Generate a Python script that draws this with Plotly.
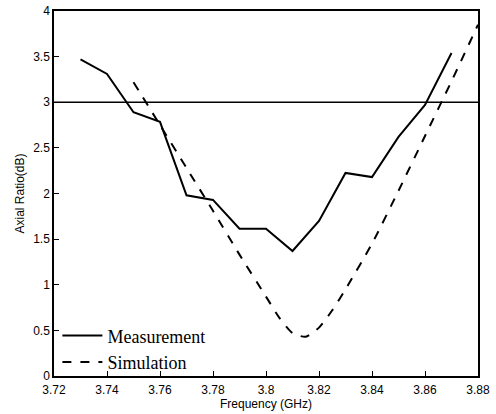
import plotly.graph_objects as go

meas_freq = [3.73, 3.74, 3.75, 3.76, 3.77, 3.78, 3.79, 3.80, 3.81, 3.82, 3.83, 3.84, 3.85, 3.86, 3.87]
meas_ar = [3.47, 3.31, 2.89, 2.785, 1.98, 1.93, 1.615, 1.615, 1.37, 1.70, 2.225, 2.18, 2.62, 2.97, 3.54]

sim_freq = [3.75, 3.76, 3.77, 3.78, 3.79, 3.80, 3.805, 3.81, 3.815, 3.82, 3.825, 3.83, 3.84, 3.85, 3.86, 3.87, 3.88]
sim_ar = [3.22, 2.75, 2.28, 1.81, 1.33, 0.87, 0.64, 0.47, 0.43, 0.53, 0.72, 0.95, 1.45, 2.03, 2.63, 3.23, 3.85]

limit_ar = 3.0
x_ticks = [3.72, 3.74, 3.76, 3.78, 3.80, 3.82, 3.84, 3.86, 3.88]
x_tick_text = ["3.72", "3.74", "3.76", "3.78", "3.8", "3.82", "3.84", "3.86", "3.88"]
y_ticks = [0, 0.5, 1, 1.5, 2, 2.5, 3, 3.5, 4]
y_tick_text = ["0", "0.5", "1", "1.5", "2", "2.5", "3", "3.5", "4"]

fig = go.Figure()
fig.add_trace(go.Scatter(x=meas_freq, y=meas_ar, mode="lines", name="Measurement",
                         line=dict(color="black", width=2)))
fig.add_trace(go.Scatter(x=sim_freq, y=sim_ar, mode="lines", name="Simulation",
                         line=dict(color="black", width=2, dash="dash", shape="spline", smoothing=0.6)))
fig.add_hline(y=limit_ar, line=dict(color="black", width=1.5))

fig.update_layout(
    width=496, height=414,
    margin=dict(l=54, r=18, t=11, b=38),
    paper_bgcolor="white", plot_bgcolor="white",
    showlegend=True,
    legend=dict(x=0.008, y=-0.012, xanchor="left", yanchor="bottom",
                bgcolor="rgba(0,0,0,0)",
                font=dict(family="Liberation Serif", size=18, color="black"),
                tracegroupgap=0, itemwidth=40),
    font=dict(family="Liberation Sans", size=12, color="black"),
)
fig.update_xaxes(range=[3.72, 3.88], tickvals=x_ticks, ticktext=x_tick_text, automargin=False,
                 ticks="inside", ticklen=5, tickcolor="black", showgrid=False, zeroline=False,
                 showline=True, linecolor="black", linewidth=1.5, mirror=True,
                 ticklabelstandoff=2,
                 title=dict(text="Frequency (GHz)", standoff=1, font=dict(size=12)))
fig.update_yaxes(range=[0, 4], tickvals=y_ticks, ticktext=y_tick_text, automargin=False,
                 ticks="inside", ticklen=5, tickcolor="black", showgrid=False, zeroline=False,
                 showline=True, linecolor="black", linewidth=1.5, mirror=True,
                 title=dict(text="Axial Ratio(dB)", standoff=6, font=dict(size=12)))

fig.write_html("out.html", config={"displayModeBar": False},
               post_script="document.body.style.margin='0';")
